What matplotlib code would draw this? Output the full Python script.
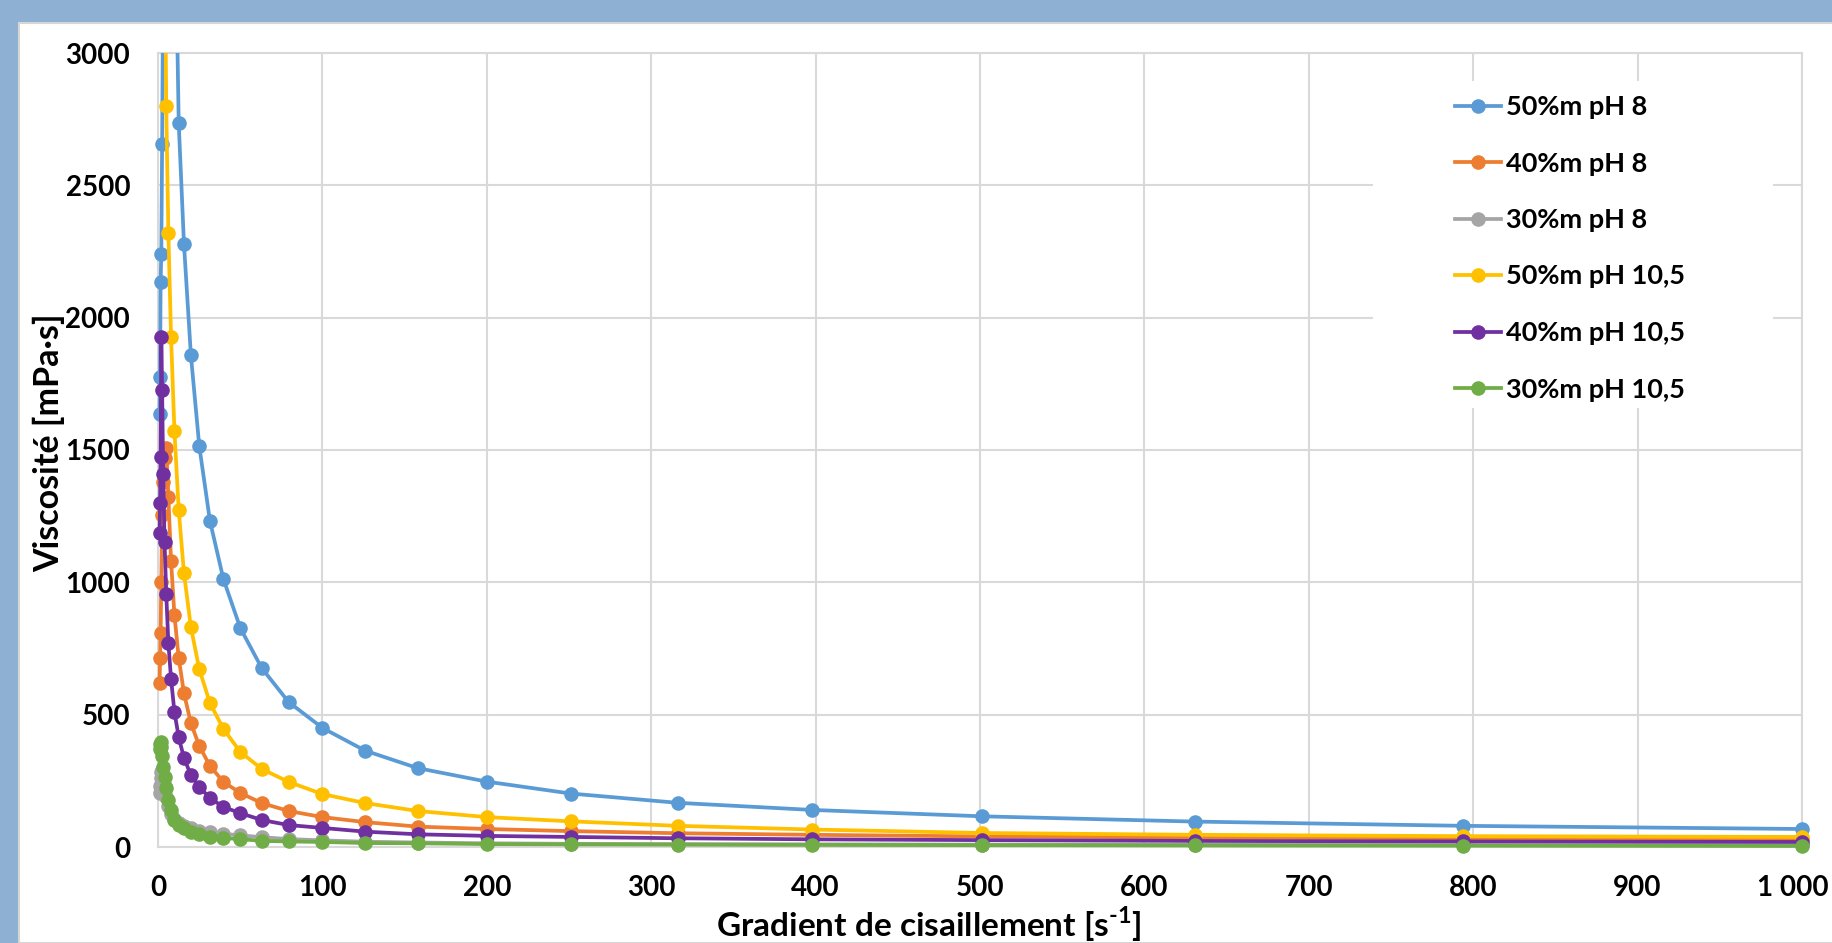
import matplotlib
matplotlib.use("Agg")
import matplotlib.pyplot as plt
import matplotlib.transforms as mtransforms
from matplotlib.patches import Rectangle

plt.rcParams['font.family'] = ['Lato', 'DejaVu Sans']
plt.rcParams['font.weight'] = 'bold'
plt.rcParams['mathtext.fontset'] = 'custom'
plt.rcParams['mathtext.rm'] = 'Lato:bold'
plt.rcParams['mathtext.bf'] = 'Lato:bold'

# shear rate [1/s], log-spaced steps of the rheometer
shear = [1.0, 1.26, 1.58, 2.0, 2.51, 3.16, 3.98, 5.01, 6.31, 7.94, 10.0,
         12.6, 15.8, 20.0, 25.1, 31.6, 39.8, 50.1, 63.1, 79.4, 100,
         126, 158, 200, 251, 316, 398, 501, 631, 794, 1000]

# viscosity [mPa.s]
visc_50_ph8 = [1636, 1775, 2134, 2240, 2656, 3300, 3900, 4300, 4400, 4200, 3700,
               2735, 2278, 1859, 1515, 1232, 1012, 827, 676, 548, 450,
               364, 298, 247, 202, 167, 140, 116, 96, 80, 68]
visc_40_ph8 = [620, 714, 808, 1001, 1254, 1380, 1470, 1507, 1322, 1080, 876,
               714, 581, 468, 382, 306, 246, 204, 166, 136, 113,
               94, 77, 68, 60, 52, 46, 40, 36, 33, 30]
visc_30_ph8 = [205, 230, 260, 285, 290, 270, 230, 190, 155, 125, 105,
               90, 80, 70, 62, 55, 50, 44, 37, 30, 25,
               20, 17, 14, 12, 11, 10, 9, 8, 7, 6]
visc_50_ph105 = [3600, 4000, 4400, 4700, 4800, 4500, 3600, 2800, 2320, 1927, 1572,
                 1273, 1035, 831, 672, 544, 446, 359, 295, 246, 200,
                 166, 136, 113, 97, 80, 66, 53, 46, 41, 38]
visc_40_ph105 = [1186, 1300, 1473, 1927, 1726, 1409, 1152, 956, 771, 635, 510,
                 415, 336, 272, 227, 185, 151, 128, 102, 83, 72,
                 58, 48, 42, 38, 33, 29, 26, 23, 21, 19]
visc_30_ph105 = [370, 390, 397, 378, 345, 302, 264, 223, 178, 140, 102,
                 85, 72, 57, 49, 38, 34, 30, 23, 21, 19,
                 15, 14, 11, 10, 9, 8, 7, 6, 5, 4]

labels = ['50%m pH 8', '40%m pH 8', '30%m pH 8',
          '50%m pH 10,5', '40%m pH 10,5', '30%m pH 10,5']
colors = ['#5B9BD5', '#ED7D31', '#A5A5A5', '#FFC000', '#7030A0', '#70AD47']
series = [visc_50_ph8, visc_40_ph8, visc_30_ph8,
          visc_50_ph105, visc_40_ph105, visc_30_ph105]

xticks = [0, 100, 200, 300, 400, 500, 600, 700, 800, 900, 1000]
xtick_labels = ['0', '100', '200', '300', '400', '500', '600', '700', '800', '900', '1 000']
yticks = [0, 500, 1000, 1500, 2000, 2500, 3000]

W, H = 1832, 943
fig = plt.figure(figsize=(W / 100, H / 100), dpi=100)
fig.patch.set_facecolor('#8EB0D3')
fig.patches.append(Rectangle((19 / W, 0), 1, 1 - 23 / H, transform=fig.transFigure,
                             facecolor='white', edgecolor='#D6D6D6', lw=1.5, zorder=-10))

# plot area in pixels: x 158..1802, y 53..847 (from top)
ax_l, ax_r, ax_t, ax_b = 158, 1802, 53, 847
ax = fig.add_axes([ax_l / W, 1 - ax_b / H, (ax_r - ax_l) / W, (ax_b - ax_t) / H])
ax.set_xlim(0, 1000)
ax.set_ylim(0, 3000)
ax.set_axisbelow(True)
ax.grid(True, color='#D9D9D9', lw=1.5)
for s in ax.spines.values():
    s.set_color('#D9D9D9')
    s.set_linewidth(1.5)

# clip only at the top so edge markers stay whole
clip = Rectangle((-0.02, -0.05), 1.04, 1.05, transform=ax.transAxes, visible=False)
ax.add_patch(clip)
for vals, lab, col in zip(series, labels, colors):
    ln, = ax.plot(shear, vals, color=col, lw=2.7, marker='o', ms=10.5,
                  mew=0, label=lab, zorder=3)
    ln.set_clip_path(clip)

ax.set_xticks(xticks)
ax.set_xticklabels(xtick_labels)
ax.set_yticks(yticks)
ax.tick_params(length=0, labelsize=20, pad=20)

# nudge the last x label so it stays inside the picture
last = ax.get_xticklabels()[-1]
last.set_transform(last.get_transform() +
                   mtransforms.ScaledTranslation(-0.09, 0, fig.dpi_scale_trans))

# white legend background hides the grid
aw, ah = ax_r - ax_l, ax_b - ax_t
ax.add_patch(Rectangle(((1373 - ax_l) / aw, (ax_b - 408) / ah), 400 / aw, 327 / ah,
                       transform=ax.transAxes, facecolor='white', edgecolor='none',
                       zorder=1))

leg = ax.legend(loc='upper left', bbox_to_anchor=(1455 / W, 1 - 95 / H),
                bbox_transform=fig.transFigure, frameon=False, fontsize=19.5,
                handlelength=1.7, handletextpad=0.2, labelspacing=1.2,
                borderpad=0, borderaxespad=0)
leg.set_zorder(5)

fig.text(929 / W, 1 - 924 / H, r'Gradient de cisaillement [s$^{\text{-1}}$]',
         fontsize=24, ha='center', va='center')
fig.text(49 / W, 1 - 443 / H, 'Viscosité [mPa·s]', fontsize=24.5,
         rotation=90, ha='center', va='center')

fig.savefig('out.png', dpi=100)
